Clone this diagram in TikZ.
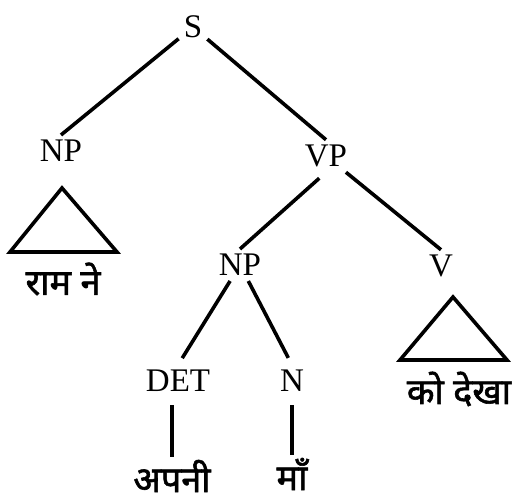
\documentclass[tikz,border=0pt]{standalone}
\usepackage{fontspec}
\setmainfont{Liberation Serif}
\newfontfamily\devfont[Script=Devanagari,FakeBold=1.6]{Noto Sans}
\begin{document}
\begin{tikzpicture}[x=1pt,y=-1pt]

% les styles
\tikzstyle{cat}=[font=\fontsize{33}{36}\selectfont,inner sep=5pt]
\tikzstyle{mot}=[font=\devfont\fontsize{36}{40}\selectfont,inner sep=1pt]
\tikzstyle{branche}=[-,line width=3.6pt]
\tikzstyle{tri}=[line width=3.6pt,line join=miter]

\useasboundingbox (0,0) rectangle (520,502);

% les categories
\node[cat] (S) at (193,27) {S};
\node[cat] (NP1) at (61,151) {NP};
\node[cat] (VP) at (326,156) {VP};
\node[cat] (NP2) at (240,265) {NP};
\node[cat] (V) at (441,266) {V};
\node[cat] (DET) at (178,381) {DET};
\node[cat] (N) at (292,381) {N};

% les mots
\node[mot] (ram) at (63,279) {राम ने};
\node[mot] (dekha) at (459,389) {को देखा};
\node[mot] (apni) at (172,476) {अपनी};
\node[mot] (maa) at (292,474) {माँ};

% les branches
\draw[branche] (S) -- (NP1.north);
\draw[branche] (S) -- (VP.north);
\draw[branche,shorten <=9pt] (VP.south) -- (NP2.north);
\draw[branche] (VP) -- (V.north);
\draw[branche,shorten >=8pt] (NP2) -- (DET.north);
\draw[branche,shorten >=8pt] (NP2) -- (N.north);
\draw[branche,shorten <=8pt,shorten >=2pt] (DET.south -| apni) -- (apni.north);
\draw[branche,shorten <=8pt,shorten >=2pt] (N) -- (maa.north);

% les triangles
\draw[tri] (62,188) -- (10,252) -- (117,252) -- cycle;
\draw[tri] (453,297) -- (400,360) -- (507,360) -- cycle;

\end{tikzpicture}
\end{document}
